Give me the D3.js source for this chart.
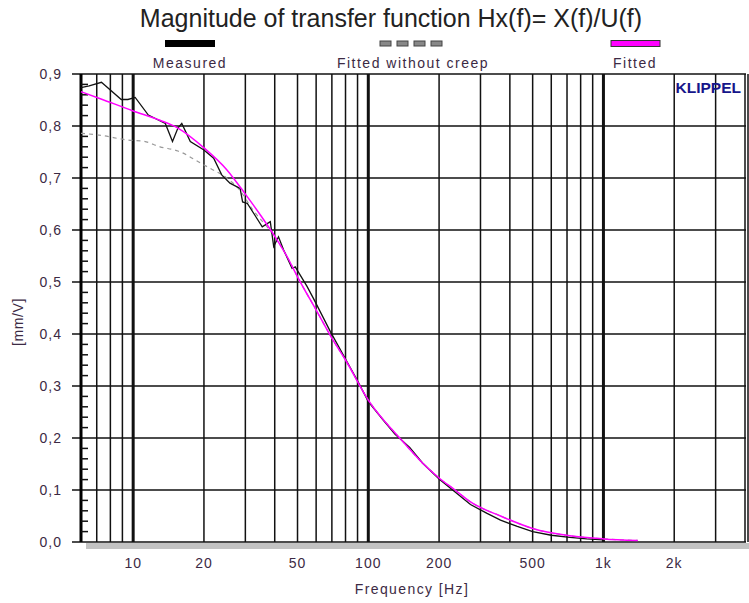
<!DOCTYPE html>
<html>
<head>
<meta charset="utf-8">
<script src="https://cdn.jsdelivr.net/npm/d3@7"></script>
<style>
  body { margin: 0; background: #fff; }
  svg { display: block; font-family: "Liberation Sans", Arial, sans-serif; }
</style>
</head>
<body>
<div id="chart"></div>
<script>
// 1. Data (frequency in Hz, magnitude in mm/V)
const fittedFreq = [6, 7.3, 10, 13, 15.5, 20, 25, 30, 35, 40, 45, 50, 60.7, 70, 80, 100, 136, 170, 200, 234, 272, 365, 500, 720, 1000, 1400];
const fittedVal  = [0.866, 0.852, 0.829, 0.811, 0.796, 0.758, 0.716, 0.669, 0.627, 0.588, 0.550, 0.510, 0.442, 0.392, 0.350, 0.273, 0.200, 0.152, 0.123, 0.100, 0.077, 0.050, 0.026, 0.012, 0.006, 0.003];

const creepFreq = [6, 7.3, 9.5, 11, 13, 15.5, 20, 22, 25, 28, 32.4, 38, 41, 45, 50, 60.7, 70, 80, 100, 136, 170, 200, 234, 272, 365, 500, 720, 1000, 1400];
const creepVal  = [0.786, 0.782, 0.773, 0.771, 0.760, 0.752, 0.725, 0.715, 0.700, 0.680, 0.638, 0.600, 0.580, 0.550, 0.510, 0.442, 0.392, 0.350, 0.273, 0.200, 0.152, 0.123, 0.100, 0.077, 0.050, 0.026, 0.012, 0.006, 0.003];

const measFreq = [6, 6.5, 7.33, 8.9, 9.5, 10.2, 11.6, 13.7, 14.7, 15.5, 16.1, 17.5, 20, 22, 23.8, 25.8, 28.5, 29.2, 30.6, 33.2, 35.4, 38.3, 39.6, 41.5, 43.6, 47.4, 48.9, 54.8, 58.5, 68.9, 80, 90, 100, 115, 130, 150, 170, 200, 234, 272, 320, 365, 430, 500, 600, 720, 850, 1000];
const measVal  = [0.874, 0.877, 0.884, 0.851, 0.851, 0.855, 0.821, 0.805, 0.770, 0.796, 0.805, 0.770, 0.754, 0.738, 0.706, 0.690, 0.680, 0.654, 0.651, 0.626, 0.606, 0.616, 0.568, 0.587, 0.562, 0.526, 0.529, 0.492, 0.468, 0.405, 0.352, 0.310, 0.270, 0.236, 0.207, 0.182, 0.152, 0.121, 0.096, 0.072, 0.055, 0.042, 0.030, 0.020, 0.013, 0.009, 0.006, 0.004];

// Grid and tick values
const xGrid = [7, 8, 9, 10, 20, 30, 40, 50, 60, 70, 80, 90, 100, 200, 300, 400, 500, 600, 700, 800, 900, 1000, 2000, 3000, 4000];
const xBold = [10, 100, 1000];
const xTicks = [10, 20, 50, 100, 200, 500, 1000, 2000];
const xTickLabels = ["10", "20", "50", "100", "200", "500", "1k", "2k"];
const yTicks = [0, 0.1, 0.2, 0.3, 0.4, 0.5, 0.6, 0.7, 0.8, 0.9];
const legendNames = ["Measured", "Fitted without creep", "Fitted"];

// 2. Size and scales
const width = 749;
const height = 603;
const textColor = "#3c2a44";

const svg = d3.select("#chart")
    .append("svg")
    .attr("width", width)
    .attr("height", height);

const x = d3.scaleLog().domain([6, 4000]).range([81, 745]);
const y = d3.scaleLinear().domain([0, 0.9]).range([542, 74]);

// gray shadow under the plot
svg.append("rect")
    .attr("x", 86).attr("y", 543)
    .attr("width", width - 86).attr("height", 6)
    .attr("fill", "#c3c3c3");

// 3. Grid
const grid = svg.append("g");

grid.selectAll("line.h")
    .data(yTicks)
    .enter()
    .append("line")
    .attr("x1", 72).attr("x2", 746)
    .attr("y1", d => y(d)).attr("y2", d => y(d))
    .attr("stroke", "#111")
    .attr("stroke-width", 1.5);

grid.selectAll("line.v")
    .data(xGrid)
    .enter()
    .append("line")
    .attr("x1", d => x(d)).attr("x2", d => x(d))
    .attr("y1", y(0.9)).attr("y2", y(0))
    .attr("stroke", "#111")
    .attr("stroke-width", d => xBold.includes(d) ? 3 : 1.5);

// right border and left axis
grid.append("line")
    .attr("x1", 748).attr("x2", 748)
    .attr("y1", y(0.9)).attr("y2", y(0))
    .attr("stroke", "#111").attr("stroke-width", 1.5);

grid.append("line")
    .attr("x1", x(6)).attr("x2", x(6))
    .attr("y1", y(0.9)).attr("y2", y(0))
    .attr("stroke", "#000").attr("stroke-width", 3);

// minor ticks on y axis (every 0.02)
const minorTicks = d3.range(0, 0.9, 0.02).filter(d => Math.abs(d * 10 - Math.round(d * 10)) > 0.01);
grid.selectAll("line.minor")
    .data(minorTicks)
    .enter()
    .append("line")
    .attr("x1", 81).attr("x2", 88)
    .attr("y1", d => y(d)).attr("y2", d => y(d))
    .attr("stroke", "#111")
    .attr("stroke-width", 1.5);

// 4. Axis labels
svg.append("g")
    .selectAll("text")
    .data(yTicks)
    .enter()
    .append("text")
    .attr("x", 62)
    .attr("y", d => y(d) + 5)
    .attr("text-anchor", "end")
    .attr("font-size", 14)
    .attr("letter-spacing", 1)
    .attr("fill", textColor)
    .text(d => d.toFixed(1).replace(".", ","));

svg.append("g")
    .selectAll("text")
    .data(xTicks)
    .enter()
    .append("text")
    .attr("x", d => x(d))
    .attr("y", 568)
    .attr("text-anchor", "middle")
    .attr("font-size", 14)
    .attr("letter-spacing", 1)
    .attr("fill", textColor)
    .text((d, i) => xTickLabels[i]);

svg.append("text")
    .attr("x", 412).attr("y", 594)
    .attr("text-anchor", "middle")
    .attr("font-size", 14)
    .attr("letter-spacing", 1.4)
    .attr("fill", textColor)
    .text("Frequency [Hz]");

svg.append("text")
    .attr("transform", "translate(23,322) rotate(-90)")
    .attr("text-anchor", "middle")
    .attr("font-size", 14)
    .attr("letter-spacing", 0.6)
    .attr("fill", textColor)
    .text("[mm/V]");

// 5. Title, legend and brand
svg.append("text")
    .attr("x", 391).attr("y", 27)
    .attr("text-anchor", "middle")
    .attr("font-size", 25)
    .attr("fill", "#222")
    .text("Magnitude of transfer function Hx(f)= X(f)/U(f)");

const legend = svg.append("g");
legend.append("rect")
    .attr("x", 165).attr("y", 40).attr("width", 50).attr("height", 7)
    .attr("fill", "#000");
legend.selectAll("rect.dash")
    .data([0, 1, 2, 3])
    .enter()
    .append("rect")
    .attr("x", d => 380 + d * 17).attr("y", 41).attr("width", 11).attr("height", 5)
    .attr("fill", "#888").attr("stroke", "#444").attr("stroke-width", 1);
legend.append("rect")
    .attr("x", 611).attr("y", 40.5).attr("width", 49).attr("height", 6)
    .attr("fill", "#ff00ff").attr("stroke", "#333").attr("stroke-width", 1);

const legendX = [190, 413, 635];
legend.selectAll("text")
    .data(legendNames)
    .enter()
    .append("text")
    .attr("x", (d, i) => legendX[i]).attr("y", 68)
    .attr("text-anchor", "middle")
    .attr("font-size", 14)
    .attr("letter-spacing", 1.5)
    .attr("fill", textColor)
    .text(d => d);

svg.append("text")
    .attr("x", 741).attr("y", 93)
    .attr("text-anchor", "end")
    .attr("font-size", 15.5)
    .attr("font-weight", "bold")
    .attr("fill", "#16168a")
    .text("KLIPPEL");

// 6. Curves
const line = d3.line()
    .x(d => x(d[0]))
    .y(d => y(d[1]))
    .curve(d3.curveMonotoneX);

const curves = svg.append("g").attr("fill", "none");

curves.append("path")
    .attr("d", line(creepFreq.map((f, i) => [f, creepVal[i]])))
    .attr("stroke", "#999")
    .attr("stroke-width", 1.2)
    .attr("stroke-dasharray", "4,4");

curves.append("path")
    .attr("d", d3.line().x(d => x(d[0])).y(d => y(d[1]))(measFreq.map((f, i) => [f, measVal[i]])))
    .attr("stroke", "#111")
    .attr("stroke-width", 1.3);

curves.append("path")
    .attr("d", line(fittedFreq.map((f, i) => [f, fittedVal[i]])))
    .attr("stroke", "#ff00ff")
    .attr("stroke-width", 1.5);
</script>
</body>
</html>
